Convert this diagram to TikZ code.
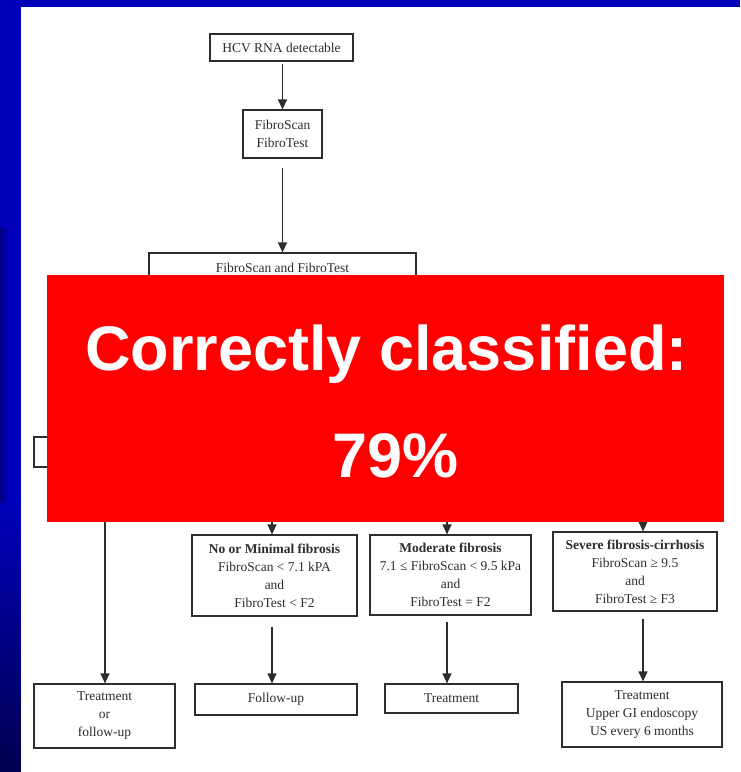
\documentclass[tikz,border=0pt]{standalone}
\usepackage{fontspec}
\setmainfont{Liberation Serif}
\newfontfamily\slidefont{Liberation Sans}
\usetikzlibrary{arrows.meta,positioning}
\definecolor{slideblue}{RGB}{0,0,187}
\definecolor{slidedark}{RGB}{0,0,80}
\definecolor{stripblue}{RGB}{0,0,140}
\definecolor{ink}{RGB}{45,45,45}
\begin{document}
\begin{tikzpicture}[
  x=1pt, y=-1pt,
  font=\fontsize{13.5}{18}\selectfont,
  >={Triangle[length=10pt,width=9pt]},
  box/.style={rectangle, draw=ink, line width=1.2pt, inner sep=0pt, align=center, text=ink},
  flow/.style={->, line width=1.2pt, draw=ink},
  redpanel/.style={rectangle, fill=red, inner sep=0pt},
  bigtxt/.style={text=white, font=\slidefont\bfseries\fontsize{63}{63}\selectfont,
                 inner sep=0pt, anchor=base},
]
\useasboundingbox (0,0) rectangle (740,772);
\fill[slideblue] (0,0) rectangle (740,772);
\fill[stripblue] (0,228) rectangle (6,503);
\shade[top color=slideblue, bottom color=slidedark] (0,503) rectangle (21,772);
\fill[white] (21,7) rectangle (740,772);

\node[box, minimum width=143pt, minimum height=27pt] (rna)   at (281.5,47.5) {HCV RNA detectable};
\node[box, minimum width=79pt,  minimum height=48pt] (tests) at (282.5,134)  {FibroScan\\FibroTest};
\node[box, minimum width=267pt, minimum height=30pt] (both)  at (282.5,268)  {FibroScan and FibroTest};
\node[box, minimum width=142pt, minimum height=30pt] (split) at (105,452)    {};

\node[box, minimum width=165pt, minimum height=81pt] (nomin)  at (274.5,575.5)
  {\textbf{No or Minimal fibrosis}\\FibroScan < 7.1 kPA\\and\\FibroTest < F2};
\node[box, minimum width=161pt, minimum height=80pt] (moder)  at (450.5,575)
  {\textbf{Moderate fibrosis}\\7.1 ≤ FibroScan < 9.5 kPa\\and\\FibroTest = F2};
\node[box, minimum width=164pt, minimum height=79pt] (severe) at (635,571.5)
  {\textbf{Severe fibrosis-cirrhosis}\\FibroScan ≥ 9.5\\and\\FibroTest ≥ F3};

\node[box, minimum width=141pt, minimum height=64pt] (tof)  at (104.5,716) {Treatment\\or\\follow-up};
\node[box, minimum width=162pt, minimum height=31pt] (fu)   at (276,699.5) {Follow-up};
\node[box, minimum width=133pt, minimum height=29pt] (tr)   at (451.5,698.5) {Treatment};
\node[box, minimum width=160pt, minimum height=65pt] (trup) at (642,714.5)
  {Treatment\\Upper GI endoscopy\\US every 6 months};

\coordinate (c1) at (272,490);
\coordinate (c2) at (447,490);
\coordinate (c3) at (643,490);

\draw[flow, shorten <=2pt] (tests |- rna.south) -- (tests);
\draw[flow, shorten <=9pt] (tests) -- (both);
\draw[flow] (split) -- (split |- tof.north);
\draw[flow] (c1) -- (c1 |- nomin.north);
\draw[flow] (c2) -- (c2 |- moder.north);
\draw[flow] (c3) -- (c3 |- severe.north);
\draw[flow, shorten <=10pt] (c1 |- nomin.south) -- (c1 |- fu.north);
\draw[flow, shorten <=6pt]  (c2 |- moder.south) -- (c2 |- tr.north);
\draw[flow, shorten <=7pt]  (c3 |- severe.south) -- (c3 |- trup.north);

\node[redpanel, minimum width=677pt, minimum height=247pt] (verdict) at (385.5,398.5) {};
\node[bigtxt] (claim) at (386.5,370) {Correctly classified:};
\node[bigtxt] (score) at (395.5,477) {79\%};

\end{tikzpicture}
\end{document}
